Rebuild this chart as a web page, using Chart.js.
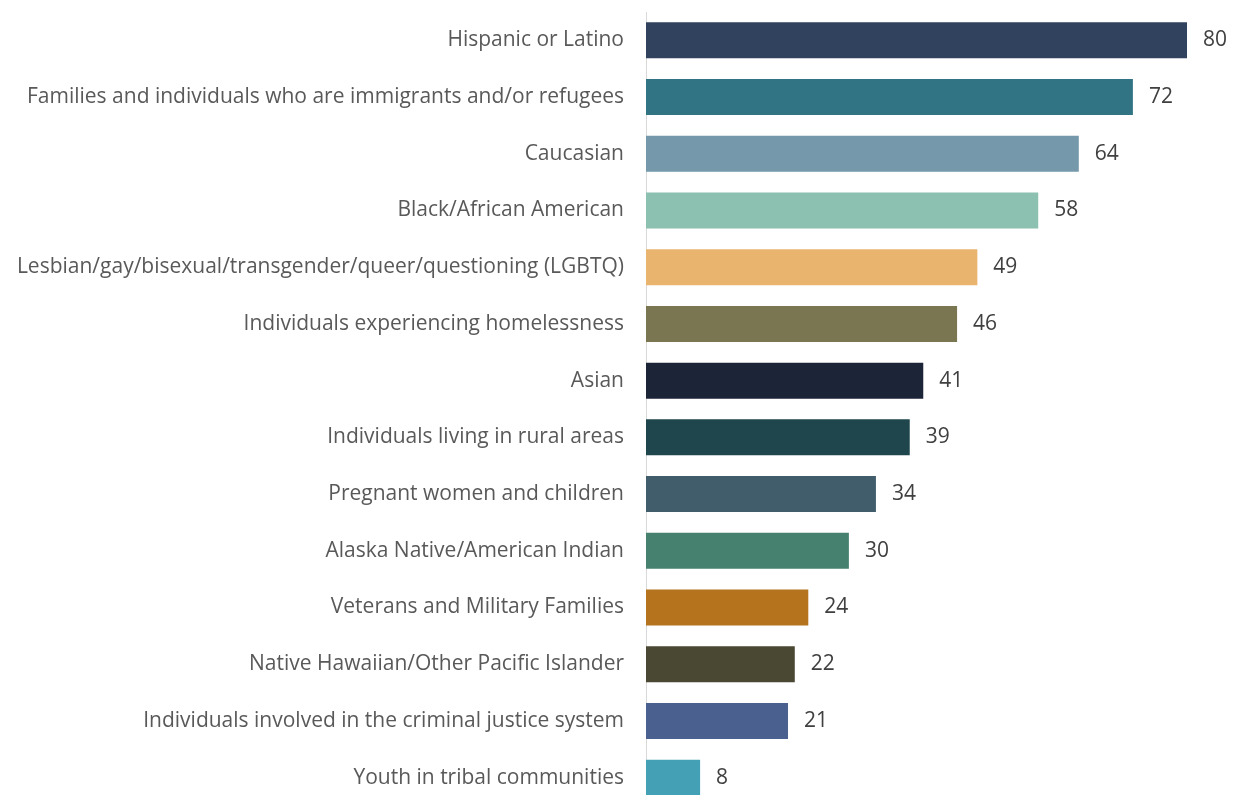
<!DOCTYPE html>
<html>
<head>
<meta charset="utf-8">
<script src="https://cdn.jsdelivr.net/npm/chart.js@4.4.1/dist/chart.umd.min.js"></script>
<style>
  html, body { margin: 0; padding: 0; background: #fff; overflow: hidden; }
  canvas { display: block; }
</style>
</head>
<body>
<canvas id="chart" width="1239" height="810"></canvas>
<script>
const categories = [
    'Hispanic or Latino',
    'Families and individuals who are immigrants and/or refugees',
    'Caucasian',
    'Black/African American',
    'Lesbian/gay/bisexual/transgender/queer/questioning (LGBTQ)',
    'Individuals experiencing homelessness',
    'Asian',
    'Individuals living in rural areas',
    'Pregnant women and children',
    'Alaska Native/American Indian',
    'Veterans and Military Families',
    'Native Hawaiian/Other Pacific Islander',
    'Individuals involved in the criminal justice system',
    'Youth in tribal communities'
];
const values = [80, 72, 64, 58, 49, 46, 41, 39, 34, 30, 24, 22, 21, 8];
const barColors = [
    '#31425f', '#317585', '#7599aa', '#8cc0b0', '#e9b46e', '#7a7651', '#1c2538',
    '#1f464d', '#415c6b', '#46816f', '#b4731c', '#4a4733', '#4a618f', '#44a0b4'
];

const FONT = '"Open Sans", sans-serif';

// draws the number just past the end of each bar
const valueLabels = {
    id: 'valueLabels',
    afterDatasetsDraw(chart) {
        const ctx = chart.ctx;
        const meta = chart.getDatasetMeta(0);
        ctx.save();
        ctx.font = '21px ' + FONT;
        ctx.fillStyle = '#404040';
        ctx.textAlign = 'left';
        ctx.textBaseline = 'middle';
        meta.data.forEach((bar, i) => {
            ctx.fillText(values[i], bar.x + 16, bar.y);
        });
        ctx.restore();
    }
};

new Chart(document.getElementById('chart').getContext('2d'), {
    type: 'bar',
    data: {
        labels: categories,
        datasets: [{
            data: values,
            backgroundColor: barColors,
            borderWidth: 0,
            barPercentage: 0.635,
            categoryPercentage: 1
        }]
    },
    options: {
        indexAxis: 'y',
        responsive: false,
        animation: false,
        layout: { padding: { top: 12, right: 52, bottom: 4, left: 0 } },
        scales: {
            x: {
                display: false,
                min: 0,
                max: 80
            },
            y: {
                grid: { display: false, drawTicks: false },
                border: { display: true, color: '#d9d9d9', width: 1 },
                ticks: {
                    padding: 22,
                    color: '#595959',
                    font: { family: FONT, size: 21 }
                },
                afterFit(scale) {
                    scale.width = 646;
                    scale.paddingTop = 0;
                    scale.paddingBottom = 0;
                }
            }
        },
        plugins: {
            legend: { display: false },
            tooltip: { enabled: false }
        }
    },
    plugins: [valueLabels]
});
</script>
</body>
</html>
